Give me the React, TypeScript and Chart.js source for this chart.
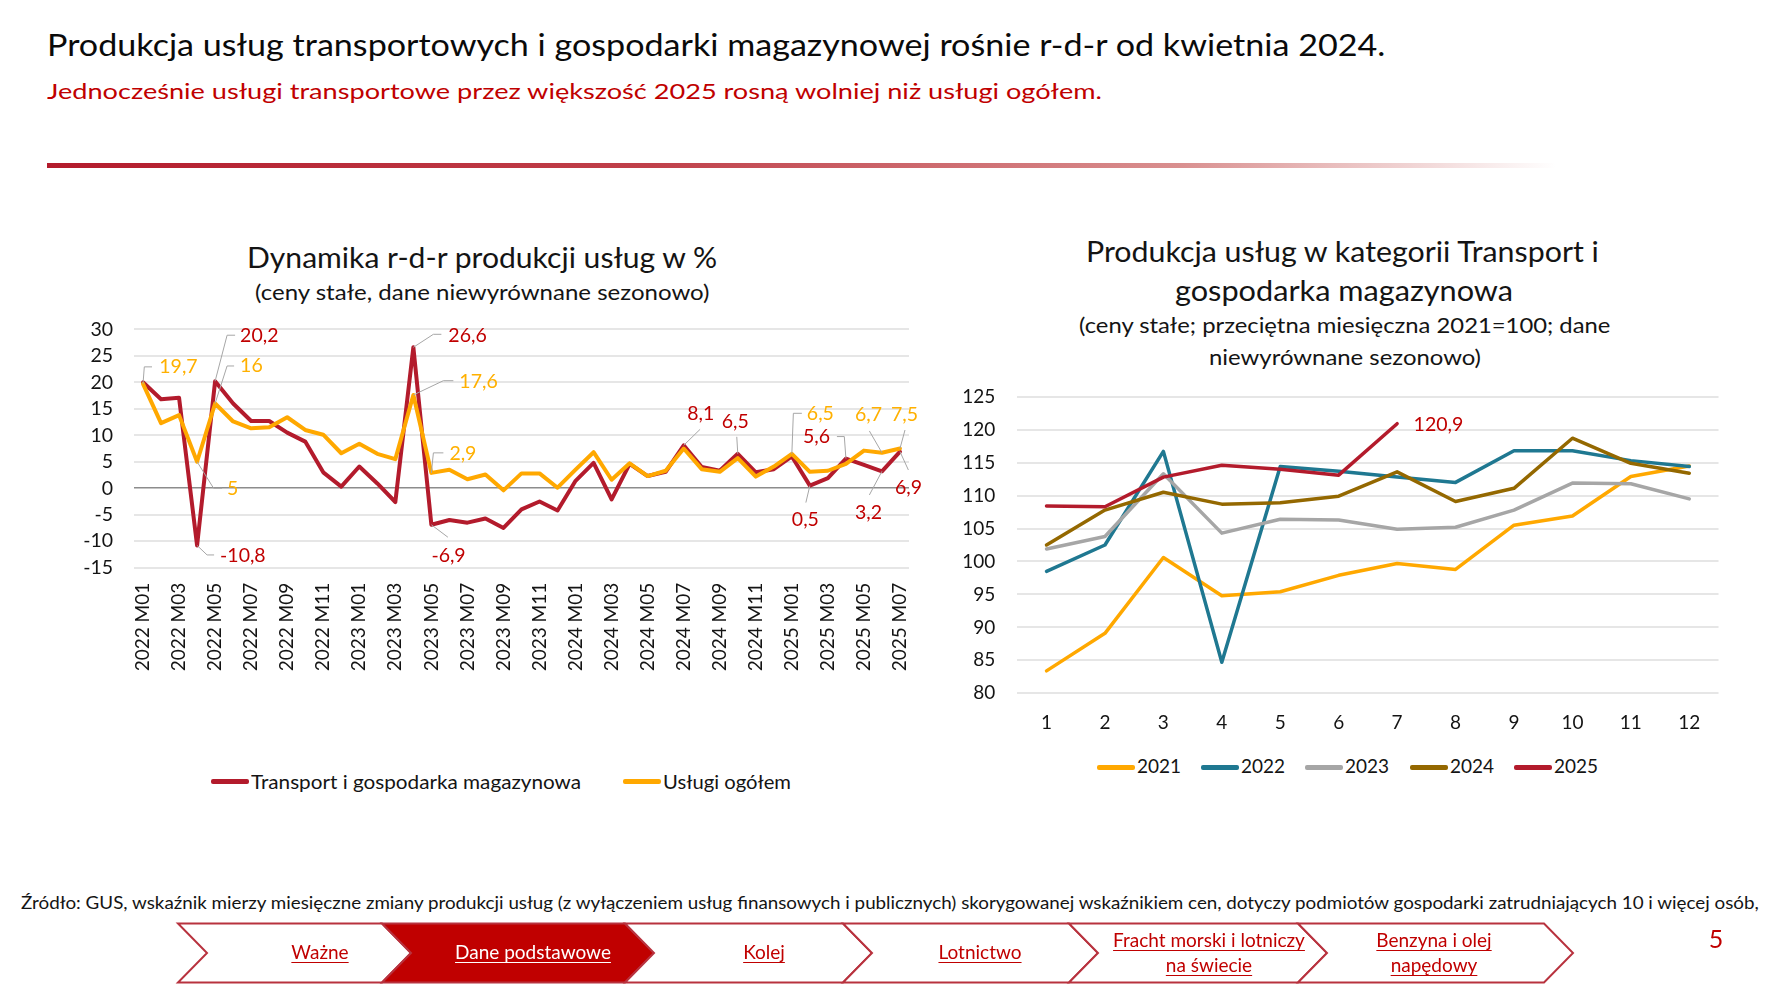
import React, { useEffect, useRef } from 'react';
import { Chart, registerables } from 'chart.js';

Chart.register(...registerables);

const FONT = 'Lato, "Noto Sans", sans-serif';

// ---------- DATA: left chart (r-d-r dynamics, %) ----------
const monthLabels = [
  '2022 M01', '2022 M02', '2022 M03', '2022 M04', '2022 M05', '2022 M06', '2022 M07', '2022 M08', '2022 M09', '2022 M10', '2022 M11', '2022 M12',
  '2023 M01', '2023 M02', '2023 M03', '2023 M04', '2023 M05', '2023 M06', '2023 M07', '2023 M08', '2023 M09', '2023 M10', '2023 M11', '2023 M12',
  '2024 M01', '2024 M02', '2024 M03', '2024 M04', '2024 M05', '2024 M06', '2024 M07', '2024 M08', '2024 M09', '2024 M10', '2024 M11', '2024 M12',
  '2025 M01', '2025 M02', '2025 M03', '2025 M04', '2025 M05', '2025 M06', '2025 M07',
];
const transportYoY = [
  20.0, 16.8, 17.1, -10.8, 20.2, 16.0, 12.7, 12.7, 10.5, 8.8, 3.0, 0.3,
  4.1, 0.9, -2.6, 26.6, -6.9, -6.0, -6.5, -5.7, -7.5, -4.0, -2.5, -4.2,
  1.4, 4.8, -2.1, 4.6, 2.3, 3.1, 8.1, 4.0, 3.3, 6.5, 3.0, 3.6,
  6.0, 0.5, 1.9, 5.6, 4.4, 3.2, 6.9,
];
const servicesYoY = [
  19.7, 12.3, 13.8, 5.0, 16.0, 12.6, 11.3, 11.5, 13.4, 11.0, 10.1, 6.6,
  8.4, 6.5, 5.5, 17.6, 2.9, 3.5, 1.7, 2.6, -0.4, 2.8, 2.8, 0.1,
  3.5, 6.8, 1.6, 4.7, 2.3, 3.3, 7.5, 3.6, 3.1, 5.7, 2.2, 4.1,
  6.5, 3.1, 3.3, 4.6, 7.1, 6.7, 7.5,
];
const leftSeriesNames = ['Transport i gospodarka magazynowa', 'Usługi ogółem'];
const leftYTicks = { min: -15, max: 30, step: 5 };

// ---------- DATA: right chart (index, 2021=100) ----------
const monthNumbers = ['1', '2', '3', '4', '5', '6', '7', '8', '9', '10', '11', '12'];
const yearNames = ['2021', '2022', '2023', '2024', '2025'];
const index2021 = [83.4, 89.1, 100.6, 94.8, 95.4, 97.9, 99.7, 98.8, 105.5, 106.9, 112.9, 114.5];
const index2022 = [98.5, 102.5, 116.7, 84.7, 114.4, 113.7, 112.8, 112.0, 116.8, 116.8, 115.3, 114.4];
const index2023 = [101.9, 103.8, 113.3, 104.3, 106.4, 106.3, 104.9, 105.2, 107.8, 111.9, 111.8, 109.5];
const index2024 = [102.5, 107.8, 110.5, 108.7, 108.9, 109.9, 113.6, 109.1, 111.1, 118.7, 114.9, 113.4];
const index2025 = [108.4, 108.3, 112.8, 114.6, 114.0, 113.1, 120.9];
const rightYTicks = { min: 80, max: 125, step: 5 };

// ---------- STYLE ----------
const RED = '#b31b2c';
const YELLOW = '#ffa800';
const LABEL_RED = '#c00000';
const LABEL_YELLOW = '#ffb000';
const TEAL = '#1f7891';
const GRAY = '#a6a6a6';
const BROWN = '#946800';
const TEXT = '#141414';
const GRID = '#e6e6e6';

const yearColors = [YELLOW, TEAL, GRAY, BROWN, RED];

// label placement (offsets from the data point, in px)
const leftLabelLayout = [
  { ds: 0, i: 4, color: LABEL_RED, dx: 25, dy: -45, path: [[12, -46], [20, -46]] },
  { ds: 0, i: 3, color: LABEL_RED, dx: 23, dy: 10.5, path: [[10, 9.5], [17, 9.5]] },
  { ds: 0, i: 15, color: LABEL_RED, dx: 35, dy: -12, path: [[20, -13], [28, -13]] },
  { ds: 0, i: 16, color: LABEL_RED, dx: 0, dy: 31, path: [[16.5, 12.4]] },
  { ds: 0, i: 30, color: LABEL_RED, dx: 3.5, dy: -32, path: [[16.4, -16]] },
  { ds: 0, i: 33, color: LABEL_RED, dx: -16, dy: -32, path: [[-1, -17]] },
  { ds: 0, i: 37, color: LABEL_RED, dx: -18, dy: 34, path: [[-4, 17]] },
  { ds: 0, i: 39, color: LABEL_RED, dx: -43, dy: -21.6, path: [[-1.6, -22], [-9, -22]] },
  { ds: 0, i: 41, color: LABEL_RED, dx: -27, dy: 41, path: [[-12.6, 23.7]] },
  { ds: 0, i: 42, color: LABEL_RED, dx: -5, dy: 36, path: [[8.4, 18.3]] },
  { ds: 1, i: 0, color: LABEL_YELLOW, dx: 16.3, dy: -17, path: [[1.3, -17], [9, -17]] },
  { ds: 1, i: 4, color: LABEL_YELLOW, dx: 25, dy: -37.5, path: [[12, -37.5], [19, -37.5]] },
  { ds: 1, i: 3, color: LABEL_YELLOW, dx: 30, dy: 27, path: [[16.5, 26.5], [25, 26.5]] },
  { ds: 1, i: 15, color: LABEL_YELLOW, dx: 46, dy: -13.3, path: [[30, -14.3], [40, -14.3]] },
  { ds: 1, i: 16, color: LABEL_YELLOW, dx: 18, dy: -19, path: [[2, -20], [12, -20]] },
  { ds: 1, i: 36, color: LABEL_YELLOW, dx: 15, dy: -40, path: [[1.5, -40.5], [10, -40.5]] },
  { ds: 1, i: 41, color: LABEL_YELLOW, dx: -27, dy: -38, path: [[-12.6, -21.8]] },
  { ds: 1, i: 42, color: LABEL_YELLOW, dx: -9, dy: -33.5, path: [[5, -18.5]] },
];
const rightLabelLayout = [{ ds: 4, i: 6, color: LABEL_RED, dx: 16.5, dy: 1.3, path: [] }];

const fmt = (v: number) => (Number.isInteger(v) ? String(v) : v.toFixed(1).replace('.', ','));

const labelPlugin = {
  id: 'pointLabels',
  afterDatasetsDraw(chart: any, _args: any, opts: any) {
    const items = (opts && opts.items) || [];
    const ctx = chart.ctx;
    ctx.save();
    for (const a of items) {
      const el = chart.getDatasetMeta(a.ds).data[a.i];
      if (!el) continue;
      const x = el.x;
      const y = el.y;
      if (a.path && a.path.length) {
        ctx.beginPath();
        ctx.moveTo(x, y);
        for (const [px, py] of a.path) ctx.lineTo(x + px, y + py);
        ctx.strokeStyle = '#a6a6a6';
        ctx.lineWidth = 1;
        ctx.stroke();
      }
      const v = chart.data.datasets[a.ds].data[a.i];
      ctx.font = `400 ${opts.size}px ${FONT}`;
      ctx.fillStyle = a.color;
      ctx.textAlign = 'left';
      ctx.textBaseline = 'middle';
      ctx.fillText(fmt(v), x + a.dx, y + a.dy);
    }
    ctx.restore();
  },
};

// ---------- text helpers ----------
const mctx = document.createElement('canvas').getContext('2d') as CanvasRenderingContext2D;
function measure(text: string, size: number) {
  mctx.font = `400 ${size}px ${FONT}`;
  return mctx.measureText(text).width;
}

function T({ text, x, cy, size, color = TEXT, align = 'left', fit, underline }: any) {
  const natural = measure(text, size);
  const w = fit ?? natural;
  const sx = w / natural;
  const left = align === 'center' ? x - w / 2 : x;
  return (
    <div
      style={{
        position: 'absolute',
        left,
        top: cy - size * 0.62,
        fontSize: size,
        lineHeight: `${size * 1.2}px`,
        fontFamily: FONT,
        color,
        whiteSpace: 'nowrap',
        transform: `scaleX(${sx})`,
        transformOrigin: '0 0',
        textDecoration: underline ? 'underline' : 'none',
        textUnderlineOffset: 3,
      }}
    >
      {text}
    </div>
  );
}

function LegendItem({ x, cy, color, text, fit, size }: any) {
  return (
    <>
      <div style={{ position: 'absolute', left: x, top: cy - 2, width: 38, height: 4.5, background: color, borderRadius: 2 }} />
      <T text={text} x={x + 40} cy={cy} size={size} fit={fit} />
    </>
  );
}

const navItems = [
  { L: 178, R: 382, lines: ['Ważne'], cx: 320, active: false },
  { L: 382, R: 625, lines: ['Dane podstawowe'], cx: 533, active: true },
  { L: 625, R: 843, lines: ['Kolej'], cx: 764, active: false },
  { L: 843, R: 1069, lines: ['Lotnictwo'], cx: 980, active: false },
  { L: 1069, R: 1298, lines: ['Fracht morski i lotniczy', 'na świecie'], cx: 1209, active: false },
  { L: 1298, R: 1544, lines: ['Benzyna i olej', 'napędowy'], cx: 1434, active: false },
];

const zeroPad = (s: any) => {
  s.paddingTop = 0;
  s.paddingBottom = 0;
  s.paddingLeft = 0;
  s.paddingRight = 0;
};

export default function App() {
  const leftRef = useRef<HTMLCanvasElement>(null);
  const rightRef = useRef<HTMLCanvasElement>(null);

  useEffect(() => {
    Chart.defaults.font.family = FONT;
    Chart.defaults.color = TEXT;

    const left = new Chart(leftRef.current as HTMLCanvasElement, {
      type: 'line',
      data: {
        labels: monthLabels,
        datasets: [
          { label: leftSeriesNames[0], data: transportYoY, borderColor: RED, backgroundColor: RED, borderWidth: 4, pointRadius: 0, order: 2, borderJoinStyle: 'round', borderCapStyle: 'round' },
          { label: leftSeriesNames[1], data: servicesYoY, borderColor: YELLOW, backgroundColor: YELLOW, borderWidth: 4, pointRadius: 0, order: 1, borderJoinStyle: 'round', borderCapStyle: 'round' },
        ],
      },
      options: {
        responsive: false,
        maintainAspectRatio: false,
        animation: false,
        layout: { padding: { left: 0, right: 31, top: 19.3, bottom: 0 } },
        plugins: {
          legend: { display: false },
          tooltip: { enabled: false },
          pointLabels: { items: leftLabelLayout, size: 19.5 },
        } as any,
        scales: {
          x: {
            type: 'category',
            offset: true,
            grid: { display: false, drawTicks: false },
            border: { display: false },
            ticks: {
              autoSkip: false,
              maxRotation: 90,
              minRotation: 90,
              padding: 15,
              color: TEXT,
              font: { size: 19 },
              callback: (_v: any, i: number) => (i % 2 === 0 ? monthLabels[i] : ''),
            },
            afterFit: (s: any) => { s.height = 122.3; zeroPad(s); },
          },
          y: {
            min: leftYTicks.min,
            max: leftYTicks.max,
            ticks: { stepSize: leftYTicks.step, autoSkip: false, padding: 21, color: TEXT, font: { size: 19.5 } },
            grid: {
              drawTicks: false,
              color: (c: any) => (c.tick && c.tick.value === 0 ? '#8c8c8c' : GRID),
              lineWidth: (c: any) => (c.tick && c.tick.value === 0 ? 1.5 : 2),
            },
            border: { display: false },
            afterFit: (s: any) => { s.width = 94; zeroPad(s); },
          },
        },
      } as any,
      plugins: [labelPlugin as any],
    });

    const rightData = [index2021, index2022, index2023, index2024, index2025];
    const right = new Chart(rightRef.current as HTMLCanvasElement, {
      type: 'line',
      data: {
        labels: monthNumbers,
        datasets: rightData.map((d, k) => ({
          label: yearNames[k],
          data: d,
          borderColor: yearColors[k],
          backgroundColor: yearColors[k],
          borderWidth: 3.5,
          pointRadius: 0,
          order: 5 - k,
          borderJoinStyle: 'round',
          borderCapStyle: 'round',
        })),
      },
      options: {
        responsive: false,
        maintainAspectRatio: false,
        animation: false,
        layout: { padding: { left: 0, right: 21.5, top: 16.7, bottom: 0 } },
        plugins: {
          legend: { display: false },
          tooltip: { enabled: false },
          pointLabels: { items: rightLabelLayout, size: 19.5 },
        } as any,
        scales: {
          x: {
            type: 'category',
            offset: true,
            grid: { display: false, drawTicks: false },
            border: { display: false },
            ticks: { maxRotation: 0, autoSkip: false, padding: 18, color: TEXT, font: { size: 19 } },
            afterFit: (s: any) => { s.height = 56.7; zeroPad(s); },
          },
          y: {
            min: rightYTicks.min,
            max: rightYTicks.max,
            ticks: { stepSize: rightYTicks.step, autoSkip: false, padding: 22, color: TEXT, font: { size: 19 } },
            grid: { drawTicks: false, color: GRID, lineWidth: 2 },
            border: { display: false },
            afterFit: (s: any) => { s.width = 97.3; zeroPad(s); },
          },
        },
      } as any,
      plugins: [labelPlugin as any],
    });

    return () => {
      left.destroy();
      right.destroy();
    };
  }, []);

  const T0 = 923.5;
  const B0 = 982.5;
  const M0 = 953;
  const D = 29;

  return (
    <div style={{ position: 'absolute', left: 0, top: 0, width: 1765, height: 989, overflow: 'hidden', background: '#fff', fontFamily: FONT }}>
      <T text="Produkcja usług transportowych i gospodarki magazynowej rośnie r-d-r od kwietnia 2024." x={47} cy={45} size={31} fit={1339} color="#0a0a0a" />
      <T text="Jednocześnie usługi transportowe przez większość 2025 rosną wolniej niż usługi ogółem." x={47} cy={92} size={21.5} fit={1056} color={LABEL_RED} />
      <div style={{ position: 'absolute', left: 47, top: 163, width: 1509, height: 4.5, background: 'linear-gradient(to right, #b31b2c 0%, #c0404a 40%, #d98f8f 75%, rgba(255,255,255,0) 100%)' }} />

      <T text="Dynamika r-d-r produkcji usług w %" x={483} cy={258} size={28} fit={472} align="center" />
      <T text="(ceny stałe, dane niewyrównane sezonowo)" x={482} cy={293} size={22} fit={455} align="center" />

      <T text="Produkcja usług w kategorii Transport i" x={1343} cy={252} size={28} fit={515} align="center" />
      <T text="gospodarka magazynowa" x={1344} cy={291} size={28} fit={338} align="center" />
      <T text="(ceny stałe; przeciętna miesięczna 2021=100; dane" x={1344.5} cy={326} size={22} fit={532} align="center" />
      <T text="niewyrównane sezonowo)" x={1345} cy={358} size={22} fit={272} align="center" />

      <canvas ref={leftRef} width={900} height={380} style={{ position: 'absolute', left: 40, top: 310, width: 900, height: 380 }} />
      <canvas ref={rightRef} width={820} height={370} style={{ position: 'absolute', left: 920, top: 380, width: 820, height: 370 }} />

      <LegendItem x={211} cy={781} color={RED} text={leftSeriesNames[0]} fit={330} size={20} />
      <LegendItem x={623} cy={781} color={YELLOW} text={leftSeriesNames[1]} fit={128} size={20} />

      {yearNames.map((y, k) => (
        <LegendItem key={y} x={1097 + k * 104.2} cy={767} color={yearColors[k]} text={y} fit={44} size={19} />
      ))}

      <T text="Źródło: GUS, wskaźnik mierzy miesięczne zmiany produkcji usług (z wyłączeniem usług finansowych i publicznych) skorygowanej wskaźnikiem cen, dotyczy podmiotów gospodarki zatrudniających 10 i więcej osób," x={21} cy={903} size={18} fit={1741} />

      <svg width={1765} height={989} style={{ position: 'absolute', left: 0, top: 0, pointerEvents: 'none' }}>
        {navItems.map((n, k) => (
          <polygon
            key={k}
            points={`${n.L},${T0} ${n.R},${T0} ${n.R + D},${M0} ${n.R},${B0} ${n.L},${B0} ${n.L + D},${M0}`}
            fill={n.active ? '#c00000' : '#ffffff'}
            stroke="#b8323e"
            strokeWidth={2}
          />
        ))}
      </svg>
      {navItems.map((n, k) =>
        n.lines.map((line, j) => (
          <T
            key={`${k}-${j}`}
            text={line}
            x={n.cx}
            cy={n.lines.length === 1 ? M0 : M0 - 12 + j * 25}
            size={19}
            align="center"
            underline
            color={n.active ? '#ffffff' : '#c00000'}
          />
        ))
      )}
      <T text="5" x={1716} cy={938} size={25} align="center" color={LABEL_RED} />
    </div>
  );
}
